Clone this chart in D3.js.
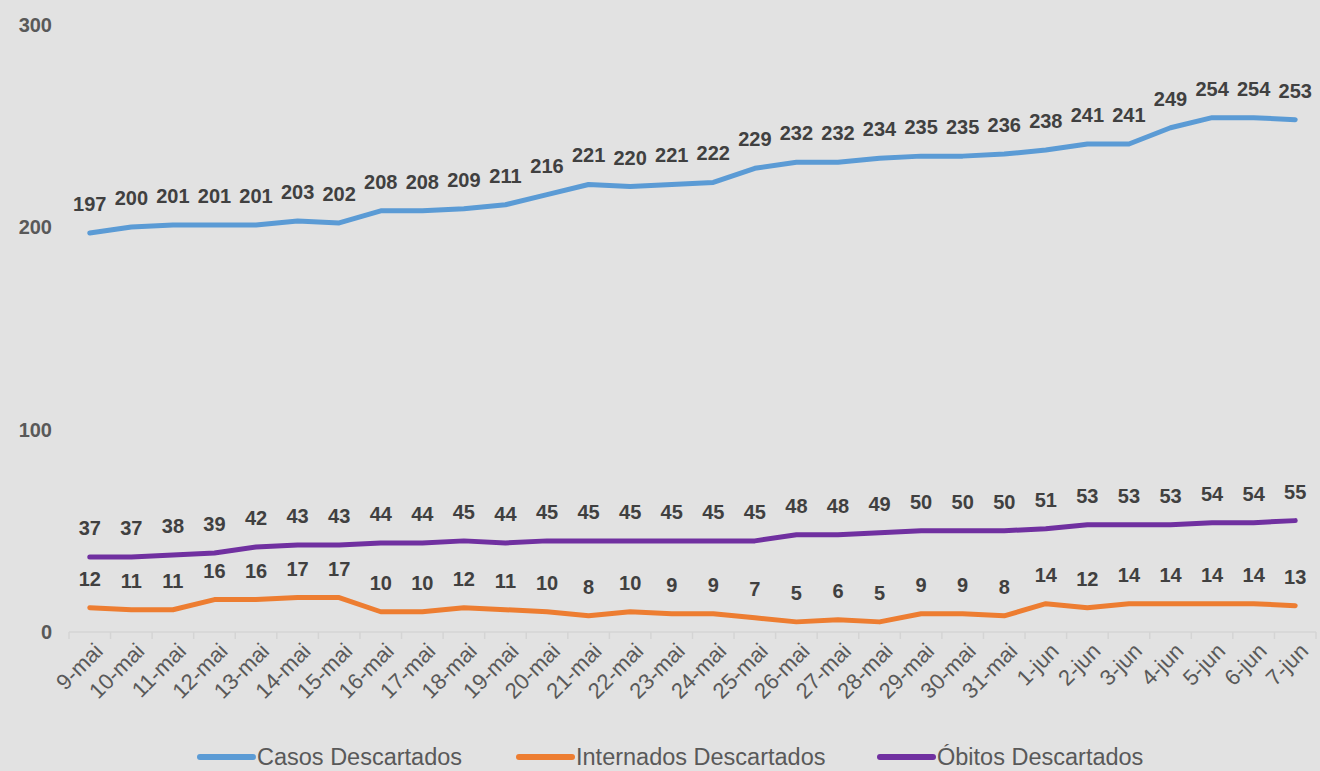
<!DOCTYPE html>
<html>
<head>
<meta charset="utf-8">
<script src="https://cdn.jsdelivr.net/npm/d3@7"></script>
<style>
  body { margin: 0; background: #e2e2e2; }
  svg { display: block; font-family: "Liberation Sans", Arial, sans-serif; }
</style>
</head>
<body>
<svg class="chart"></svg>
<script>
// categories and series
var days = ["9-mai", "10-mai", "11-mai", "12-mai", "13-mai", "14-mai", "15-mai", "16-mai", "17-mai", "18-mai",
    "19-mai", "20-mai", "21-mai", "22-mai", "23-mai", "24-mai", "25-mai", "26-mai", "27-mai", "28-mai",
    "29-mai", "30-mai", "31-mai", "1-jun", "2-jun", "3-jun", "4-jun", "5-jun", "6-jun", "7-jun"];
var casos = [197, 200, 201, 201, 201, 203, 202, 208, 208, 209, 211, 216, 221, 220, 221, 222, 229, 232, 232, 234,
    235, 235, 236, 238, 241, 241, 249, 254, 254, 253];
var internados = [12, 11, 11, 16, 16, 17, 17, 10, 10, 12, 11, 10, 8, 10, 9, 9, 7, 5, 6, 5,
    9, 9, 8, 14, 12, 14, 14, 14, 14, 13];
var obitos = [37, 37, 38, 39, 42, 43, 43, 44, 44, 45, 44, 45, 45, 45, 45, 45, 45, 48, 48, 49,
    50, 50, 50, 51, 53, 53, 53, 54, 54, 55];
var yTicks = [0, 100, 200, 300];
var seriesNames = ["Casos Descartados", "Internados Descartados", "Óbitos Descartados"];
var seriesColors = ["#5b9bd5", "#ed7d31", "#7030a0"];

var width = 1320, height = 771;

var svg = d3.select("svg.chart")
    .attr("width", width)
    .attr("height", height);

svg.append("rect")
    .attr("width", width)
    .attr("height", height)
    .attr("fill", "#e2e2e2");

var x = d3.scaleBand()
    .domain(days)
    .range([69, 1316]);

var y = d3.scaleLinear()
    .domain([0, 300])
    .range([632, 24.5]);

// y labels (no axis line, no gridlines)
svg.append("g")
    .selectAll("text")
    .data(yTicks)
    .join("text")
    .attr("x", 52)
    .attr("y", d => y(d))
    .attr("dy", "0.35em")
    .attr("text-anchor", "end")
    .attr("font-size", 20)
    .attr("font-weight", "bold")
    .attr("fill", "#595959")
    .text(d => d);

// x axis with ticks between categories
var xAxis = svg.append("g")
    .attr("transform", "translate(0," + y(0) + ")");

xAxis.append("line")
    .attr("x1", x.range()[0])
    .attr("x2", x.range()[1])
    .attr("stroke", "#d4d4d4")
    .attr("stroke-width", 1.5);

xAxis.selectAll("line.tick")
    .data(days.concat(["end"]))
    .join("line")
    .attr("class", "tick")
    .attr("x1", (d, i) => x.range()[0] + i * x.step())
    .attr("x2", (d, i) => x.range()[0] + i * x.step())
    .attr("y1", 0)
    .attr("y2", 7)
    .attr("stroke", "#d4d4d4")
    .attr("stroke-width", 1.5);

xAxis.selectAll("text")
    .data(days)
    .join("text")
    .attr("transform", d => "translate(" + (x(d) + x.bandwidth() / 2 + 9) + ",15) rotate(-45)")
    .attr("text-anchor", "end")
    .attr("dy", "0.35em")
    .attr("font-size", 22)
    .attr("fill", "#595959")
    .text(d => d);

// lines with labels above each point
var allSeries = [casos, internados, obitos];

var line = d3.line()
    .x((d, i) => x(days[i]) + x.bandwidth() / 2)
    .y(d => y(d));

allSeries.forEach(function (values, s) {
    svg.append("path")
        .datum(values)
        .attr("fill", "none")
        .attr("stroke", seriesColors[s])
        .attr("stroke-width", 5)
        .attr("stroke-linecap", "round")
        .attr("stroke-linejoin", "round")
        .attr("d", line);
});

allSeries.forEach(function (values) {
    svg.append("g")
        .selectAll("text")
        .data(values)
        .join("text")
        .attr("x", (d, i) => x(days[i]) + x.bandwidth() / 2)
        .attr("y", d => y(d) - 22)
        .attr("text-anchor", "middle")
        .attr("font-size", 20)
        .attr("font-weight", "bold")
        .attr("fill", "#404040")
        .text(d => d);
});

// legend
var legendX = [198, 517, 878];
var legend = svg.append("g")
    .selectAll("g")
    .data(seriesNames)
    .join("g")
    .attr("transform", (d, i) => "translate(" + legendX[i] + ",757)");

legend.append("line")
    .attr("x1", 2)
    .attr("x2", 55)
    .attr("stroke", (d, i) => seriesColors[i])
    .attr("stroke-width", 6)
    .attr("stroke-linecap", "round");

legend.append("text")
    .attr("x", 59)
    .attr("dy", "0.35em")
    .attr("font-size", 23.5)
    .attr("fill", "#595959")
    .text(d => d);
</script>
</body>
</html>
